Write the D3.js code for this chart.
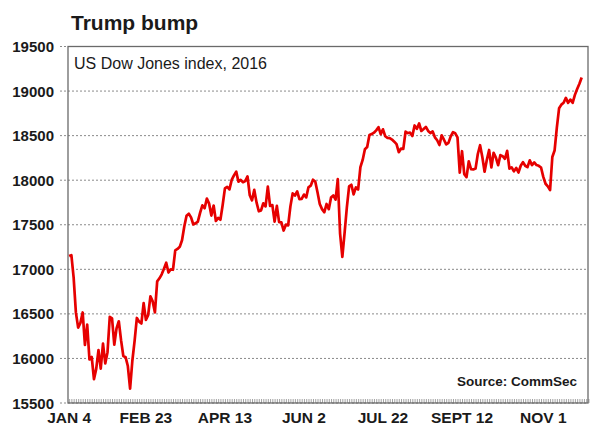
<!DOCTYPE html>
<html>
<head>
<meta charset="utf-8">
<script src="https://cdn.jsdelivr.net/npm/d3@7"></script>
<style>
  html, body { margin: 0; padding: 0; background: #fff; }
  svg { display: block; font-family: "Liberation Sans", Arial, sans-serif; }
</style>
</head>
<body>
<svg id="chart" width="591" height="424"></svg>
<script>
// Dow Jones Industrial Average, daily closes, 4 Jan – 25 Nov 2016 (one value per trading day)
const closes = [
  // Jan
  17149, 17159, 16907, 16514, 16346, 16399, 16516, 16151, 16379, 15988,
  16016, 15767, 15883, 16094, 15885, 16167, 15944, 16070, 16466,
  // Feb
  16449, 16154, 16337, 16417, 16205, 16027, 16014, 15915, 15660, 15974,
  16196, 16454, 16413, 16392, 16621, 16432, 16485, 16697, 16640, 16517,
  // Mar
  16865, 16899, 16944, 17007, 17074, 16964, 17000, 16995, 17213, 17229,
  17252, 17326, 17481, 17602, 17624, 17583, 17503, 17516, 17535, 17633,
  17717, 17685,
  // Apr
  17793, 17737, 17603, 17716, 17542, 17577, 17556, 17721, 17908, 17926,
  17897, 18004, 18054, 18096, 17983, 18004, 17977, 17990, 18042, 17831,
  17774,
  // May
  17891, 17751, 17651, 17661, 17741, 17706, 17928, 17711, 17721, 17535,
  17711, 17530, 17527, 17435, 17501, 17493, 17706, 17852, 17828, 17873,
  17787,
  // Jun
  17790, 17839, 17807, 17920, 17938, 18005, 17985, 17865, 17732, 17675,
  17640, 17733, 17675, 17805, 17830, 17781, 18011, 17401, 17140, 17410,
  17695, 17930,
  // Jul
  17949, 17841, 17919, 17896, 18147, 18227, 18348, 18372, 18506, 18517,
  18533, 18559, 18595, 18517, 18571, 18493, 18474, 18472, 18456, 18432,
  // Aug
  18405, 18314, 18355, 18352, 18544, 18529, 18533, 18496, 18614, 18576,
  18636, 18552, 18574, 18598, 18553, 18529, 18547, 18481, 18448, 18395,
  18503, 18454, 18401,
  // Sep
  18419, 18492, 18538, 18526, 18480, 18085, 18325, 18067, 18035, 18212,
  18124, 18120, 18130, 18294, 18392, 18261, 18095, 18228, 18339, 18143,
  18308,
  // Oct
  18254, 18168, 18281, 18269, 18240, 18329, 18129, 18144, 18099, 18138,
  18086, 18162, 18203, 18162, 18146, 18223, 18169, 18199, 18170, 18161,
  18142,
  // Nov
  18037, 17960, 17931, 17888, 18260, 18333, 18590, 18808, 18848, 18869,
  18923, 18868, 18904, 18868, 18957, 19024, 19083, 19152
];

const yTicks = [15500, 16000, 16500, 17000, 17500, 18000, 18500, 19000, 19500];
const xTickIndex = [0, 34, 69, 104, 139, 174, 210];
const xTickLabels = ["JAN 4", "FEB 23", "APR 13", "JUN 2", "JUL 22", "SEPT 12", "NOV 1"];

const titleText = "Trump bump";
const subtitleText = "US Dow Jones index, 2016";
const sourceText = "Source: CommSec";

const svg = d3.select("#chart");
const plot = { left: 68, right: 588, top: 46.5, bottom: 403 };

const x = d3.scaleLinear().domain([-0.5, 229.8]).range([plot.left, plot.right]);
const y = d3.scaleLinear().domain([15500, 19500]).range([plot.bottom, plot.top]);

// dotted gridlines, running a little past the left edge as tick marks
svg.append("g")
  .selectAll("line")
  .data(yTicks)
  .join("line")
  .attr("x1", plot.left - 8)
  .attr("x2", plot.right)
  .attr("y1", d => y(d))
  .attr("y2", d => y(d))
  .attr("stroke", "#8a8a8a")
  .attr("stroke-width", 1)
  .attr("stroke-dasharray", "2,2");

// y-axis labels
svg.append("g")
  .selectAll("text")
  .data(yTicks)
  .join("text")
  .attr("x", 54)
  .attr("y", d => y(d) + 5.5)
  .attr("text-anchor", "end")
  .attr("font-size", 15)
  .attr("font-weight", "bold")
  .attr("fill", "#1a1a1a")
  .text(d => d);

// bottom axis with a small tick for every trading day
const xAxis = d3.axisBottom(x)
  .tickValues(d3.range(0, 231))
  .tickSize(-4)
  .tickFormat("");
const gx = svg.append("g")
  .attr("transform", `translate(0,${plot.bottom})`)
  .call(xAxis);
gx.select(".domain").remove();
gx.selectAll(".tick line").attr("stroke", "#8a8a8a").attr("stroke-width", 0.8);

// x-axis labels
svg.append("g")
  .selectAll("text")
  .data(xTickIndex)
  .join("text")
  .attr("x", d => x(d))
  .attr("y", 422.5)
  .attr("text-anchor", "middle")
  .attr("font-size", 15.5)
  .attr("font-weight", "bold")
  .attr("fill", "#1a1a1a")
  .text((d, i) => xTickLabels[i]);

// plot frame
svg.append("rect")
  .attr("x", plot.left)
  .attr("y", plot.top)
  .attr("width", plot.right - plot.left)
  .attr("height", plot.bottom - plot.top)
  .attr("fill", "none")
  .attr("stroke", "#6a6a6a")
  .attr("stroke-width", 1.3);

// index line
const line = d3.line()
  .x((d, i) => x(i))
  .y(d => y(d));
svg.append("path")
  .datum(closes)
  .attr("d", line)
  .attr("fill", "none")
  .attr("stroke", "#e60000")
  .attr("stroke-width", 2.7)
  .attr("stroke-linejoin", "round");

// titles and source
svg.append("text")
  .attr("x", 71).attr("y", 30)
  .attr("font-size", 21).attr("font-weight", "bold")
  .attr("fill", "#1a1a1a")
  .text(titleText);

svg.append("text")
  .attr("x", 74).attr("y", 69)
  .attr("font-size", 16)
  .attr("fill", "#1a1a1a")
  .text(subtitleText);

svg.append("text")
  .attr("x", 577).attr("y", 386)
  .attr("text-anchor", "end")
  .attr("font-size", 13.5).attr("font-weight", "bold")
  .attr("fill", "#1a1a1a")
  .text(sourceText);
</script>
</body>
</html>
